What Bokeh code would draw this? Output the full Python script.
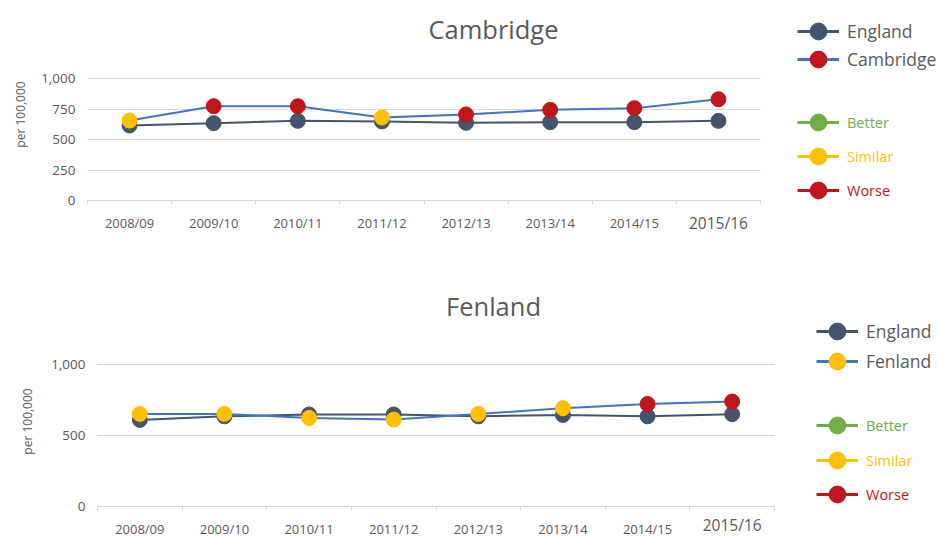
from bokeh.plotting import figure
from bokeh.models import (ColumnDataSource, Range1d, FixedTicker, Legend, LegendItem,
                          Label, NumeralTickFormatter)
from bokeh.layouts import column
from bokeh.transform import factor_cmap
from bokeh.embed import file_html
from bokeh.resources import INLINE
import math

# ---------------- data ----------------
periods = ["2008/09", "2009/10", "2010/11", "2011/12", "2012/13", "2013/14", "2014/15", "2015/16"]

england_a = [615, 634, 653, 648, 637, 642, 642, 653]
cambridge = [655, 773, 773, 680, 705, 743, 757, 830]
cambridge_status = ["Similar", "Worse", "Worse", "Similar", "Worse", "Worse", "Worse", "Worse"]

england_b = [610, 635, 648, 648, 635, 645, 635, 650]
fenland = [652, 652, 624, 612, 652, 692, 722, 739]
fenland_status = ["Similar", "Similar", "Similar", "Similar", "Similar", "Similar", "Worse", "Worse"]

status_levels = ["Better", "Similar", "Worse"]
status_colors = ["#70ad47", "#ffc000", "#c0161b"]

cambridge_yticks = [0, 250, 500, 750, 1000]
fenland_yticks = [0, 500, 1000]
y_max = 1000

ENGLAND_COLOR = "#44546a"
LOCAL_COLOR = "#4472c4"
TEXT_GREY = "#595959"
GRID = "#d9d9d9"
FONT = "Open Sans"
W = 939
NAN = float("nan")


def make_chart(name, england, local, status, yticks, legend_dot,
               fig_top, height, area, legend_left, legend_centers,
               title_pos, ylabel_pos, big_label_y):
    # area = (left, top, right, bottom) of the data region, in page px
    al, at, ar, ab = area
    n = len(periods)
    xpx = (ar - al) / n            # px per category
    ypx = (ab - at) / y_max         # px per unit
    fig_bottom = fig_top + height
    x_range = Range1d(-al / xpx, n + (W - ar) / xpx)
    y_range = Range1d(-(fig_bottom - ab) / ypx, y_max + (at - fig_top) / ypx)

    p = figure(width=W, height=height, output_backend="svg", toolbar_location=None,
               x_range=x_range, y_range=y_range,
               min_border=0, min_border_left=0, min_border_right=0,
               min_border_top=0, min_border_bottom=0,
               outline_line_color=None, background_fill_color="white",
               border_fill_color="white")
    p.xgrid.visible = False
    p.ygrid.visible = False

    def sx(px):
        return px

    def sy(py):
        return fig_bottom - py

    xs = [i + 0.5 for i in range(n)]

    # x axis (placed at y = 0 of the data region)
    xa = p.xaxis[0]
    xa.fixed_location = 0
    xa.bounds = (0, n)
    xa.ticker = FixedTicker(ticks=xs, minor_ticks=list(range(n + 1)))
    overrides = {x: lab for x, lab in zip(xs, periods)}
    overrides[xs[-1]] = ""
    xa.major_label_overrides = overrides
    xa.major_tick_line_color = None
    xa.major_tick_out = 0
    xa.major_tick_in = 0
    xa.minor_tick_out = 4
    xa.minor_tick_in = 0
    xa.minor_tick_line_color = GRID
    xa.axis_line_color = GRID
    xa.major_label_text_font = FONT
    xa.major_label_text_font_size = "13px"
    xa.major_label_text_color = TEXT_GREY
    xa.major_label_standoff = 9
    xa.level = "underlay"

    # y axis (placed at x = 0 of the data region); its inner ticks act as gridlines
    ya = p.yaxis[0]
    ya.fixed_location = 0
    ya.bounds = (0, y_max)
    ya.ticker = FixedTicker(ticks=yticks)
    ya.formatter = NumeralTickFormatter(format="0,0")
    ya.axis_line_color = None
    ya.major_tick_out = 0
    ya.major_tick_in = int(round(ar - al))
    ya.major_tick_line_color = GRID
    ya.minor_tick_line_color = None
    ya.major_label_text_font = FONT
    ya.major_label_text_font_size = "13.5px"
    ya.major_label_text_color = TEXT_GREY
    ya.major_label_standoff = 12
    ya.level = "underlay"

    # series
    p.line(xs, england, line_color=ENGLAND_COLOR, line_width=2)
    p.scatter(xs, england, marker="circle", size=15, color=ENGLAND_COLOR)
    p.line(xs, local, line_color=LOCAL_COLOR, line_width=2)
    src = ColumnDataSource(dict(x=xs, y=local, status=status))
    p.scatter("x", "y", source=src, marker="circle", size=15,
              color=factor_cmap("status", status_colors, status_levels))

    # legends (legend-only renderers hold a single NaN point, so they draw nothing in the plot)
    entries = [
        ("England", ENGLAND_COLOR, ENGLAND_COLOR, TEXT_GREY, "17.5px"),
        (name, LOCAL_COLOR, legend_dot, TEXT_GREY, "17.5px"),
        ("Better", status_colors[0], status_colors[0], status_colors[0], "14.5px"),
        ("Similar", status_colors[1], status_colors[1], status_colors[1], "14.5px"),
        ("Worse", status_colors[2], status_colors[2], status_colors[2], "14.5px"),
    ]
    for (label, lcol, dcol, tcol, fsize), cy in zip(entries, legend_centers):
        dummy = ColumnDataSource(dict(x=[NAN], y=[NAN]))
        r_line = p.line("x", "y", source=dummy, line_color=lcol, line_width=3)
        r_dot = p.scatter("x", "y", source=dummy, marker="circle", size=10, color=dcol)
        leg = Legend(items=[LegendItem(label=label, renderers=[r_line, r_dot], index=0)],
                     location=(sx(legend_left), sy(cy + 21)),
                     glyph_width=42, glyph_height=42, label_standoff=8,
                     padding=0, margin=0, border_line_color=None,
                     background_fill_alpha=0, label_text_color=tcol,
                     label_text_font=FONT, label_text_font_size=fsize)
        p.add_layout(leg)

    # chart title
    p.add_layout(Label(x=sx(title_pos[0]), y=sy(title_pos[1]), x_units="screen", y_units="screen",
                       text=name, text_align="center", text_baseline="middle",
                       text_font=FONT, text_font_size="25.5px", text_color=TEXT_GREY))
    # y axis title
    p.add_layout(Label(x=sx(ylabel_pos[0]), y=sy(ylabel_pos[1]), x_units="screen", y_units="screen",
                       text="per 100,000", angle=math.pi / 2, text_align="center",
                       text_baseline="middle", text_font=FONT, text_font_size="12px",
                       text_color=TEXT_GREY))
    # last period label (drawn larger, as in the original)
    p.add_layout(Label(x=xs[-1], y=sy(big_label_y), x_units="data", y_units="screen",
                       text=periods[-1], text_align="center", text_baseline="middle",
                       text_font=FONT, text_font_size="15.5px", text_color=TEXT_GREY))
    return p


top = make_chart("Cambridge", england_a, cambridge, cambridge_status, cambridge_yticks,
                 status_colors[2], fig_top=0, height=268, area=(87, 78, 760, 200),
                 legend_left=797, legend_centers=[31, 59, 122, 156, 190],
                 title_pos=(493, 28), ylabel_pos=(20, 114), big_label_y=222)

bottom = make_chart("Fenland", england_b, fenland, fenland_status, fenland_yticks,
                    status_colors[1], fig_top=268, height=268, area=(97, 364, 774, 506),
                    legend_left=816, legend_centers=[331, 361, 425, 460, 494],
                    title_pos=(493, 305), ylabel_pos=(27, 421), big_label_y=524)

layout = column(top, bottom)
open("out.html", "w").write(file_html(layout, INLINE))
